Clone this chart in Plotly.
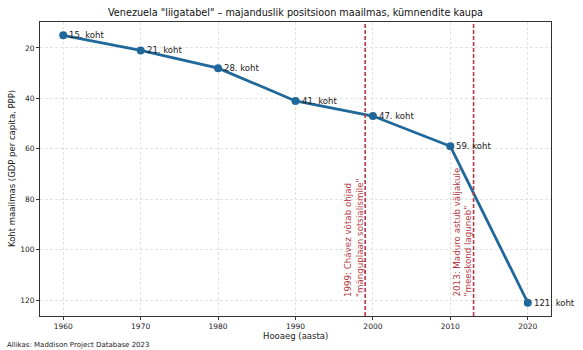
import plotly.graph_objects as go

# Venezuela's world rank in GDP per capita (PPP), by decade
years = [1960, 1970, 1980, 1990, 2000, 2010, 2020]
ranks = [15, 21, 28, 41, 47, 59, 121]
point_labels = [f"{r}. koht" for r in ranks]

# Political turning points
event_years = [1999, 2013]
event_texts = [
    '1999: Chávez võtab ohjad<br>"mänguplaan sotsialismile"',
    '2013: Maduro astub väljakule<br>"meeskond laguneb"',
]

x_ticks = [1960, 1970, 1980, 1990, 2000, 2010, 2020]
y_ticks = [20, 40, 60, 80, 100, 120]

FONT = "DejaVu Sans"
LINE_COLOR = "#21689a"
EVENT_COLOR = "#b53a42"

W, H = 583, 350
ML, MR, MT, MB = 40, 32, 22, 34
PW, PH = W - ML - MR, H - MT - MB

fig = go.Figure()
fig.add_trace(go.Scatter(
    x=years, y=ranks, mode="lines+markers",
    line=dict(color=LINE_COLOR, width=2.8),
    marker=dict(color=LINE_COLOR, size=8),
    hoverinfo="skip", showlegend=False,
))

for x, y, t in zip(years, ranks, point_labels):
    fig.add_annotation(x=x, y=y, text=t, showarrow=False,
                       xanchor="left", yanchor="middle", xshift=4,
                       font=dict(family=FONT, size=8.5, color="#222"))

for ex, et in zip(event_years, event_texts):
    fig.add_shape(type="line", x0=ex, x1=ex, y0=0, y1=1, yref="paper",
                  line=dict(color=EVENT_COLOR, width=1.6, dash="4px,2px"))
    fig.add_annotation(x=ex, y=119.5, text=et, showarrow=False, textangle=-90,
                       xanchor="right", yanchor="bottom", align="left", xshift=1,
                       font=dict(family=FONT, size=8.7, color=EVENT_COLOR))

# Axis titles placed as paper annotations for exact positioning
fig.add_annotation(x=0.5, y=(H - MB - 336) / PH, xref="paper", yref="paper",
                   xanchor="center", yanchor="middle", text="Hooaeg (aasta)",
                   showarrow=False, font=dict(family=FONT, size=8.5, color="#222"))
fig.add_annotation(x=(12 - ML) / PW, y=0.5, xref="paper", yref="paper",
                   xanchor="center", yanchor="middle", textangle=-90,
                   text="Koht maailmas (GDP per capita, PPP)",
                   showarrow=False, font=dict(family=FONT, size=8.5, color="#222"))

# Source note in the bottom-left corner of the figure
fig.add_annotation(x=(5 - ML) / PW, y=(H - MB - 345) / PH, xref="paper", yref="paper",
                   xanchor="left", yanchor="middle",
                   text="Allikas: Maddison Project Database 2023", showarrow=False,
                   font=dict(family=FONT, size=7, color="#222"))

axis_common = dict(
    showline=True, linecolor="#333", linewidth=1, mirror=True, automargin=False,
    ticks="outside", ticklen=3, tickcolor="#333", tickwidth=1,
    showgrid=True, gridcolor="#e2e2e2", gridwidth=0.8, griddash="3px,2px",
    zeroline=False, tickfont=dict(family=FONT, size=7.5, color="#222"),
)

fig.update_layout(
    width=W, height=H,
    margin=dict(l=ML, r=MR, t=MT, b=MB),
    paper_bgcolor="white", plot_bgcolor="white",
    title=dict(text='Venezuela "liigatabel" – majanduslik positsioon maailmas, kümnendite kaupa',
               x=(ML + PW / 2) / W, xanchor="center", y=1 - 13 / H, yanchor="middle",
               font=dict(family=FONT, size=9.7, color="#111")),
    xaxis=dict(range=[1957, 2023], tickvals=x_ticks, ticklabelstandoff=0, **axis_common),
    yaxis=dict(range=[126.3, 9.7], tickvals=y_ticks, **axis_common),
)

fig.write_html("out.html")
